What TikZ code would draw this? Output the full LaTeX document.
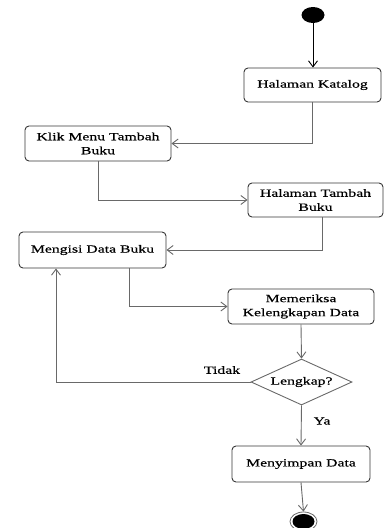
\documentclass[tikz,border=0pt]{standalone}
\usepackage{fontspec}
\setmainfont{Liberation Serif}[FakeStretch=1.43,FakeBold=0.5]
\usetikzlibrary{arrows.meta,shapes.geometric}
\definecolor{linegrey}{RGB}{105,105,105}
\definecolor{boxline}{RGB}{55,55,55}
\begin{document}
\begin{tikzpicture}[x=1pt,y=-1pt,
  font=\fontsize{11}{14}\selectfont,
  action/.style={draw=boxline, line width=0.9pt, rounded corners=4pt, align=center,
    inner sep=0pt, fill=white},
  decision/.style={diamond, draw=linegrey, line width=0.9pt, aspect=2.2, inner sep=0pt},
  flow/.style={draw=linegrey, line width=0.9pt,
    -{Straight Barb[length=6pt,width=9pt]}},
  lbl/.style={inner sep=0pt}]
\useasboundingbox (0,0) rectangle (387,528);

% start and end markers
\node (start) [ellipse, fill=black, minimum width=23pt, minimum height=16pt, inner sep=0pt] at (313,15) {};
\node (finish) [ellipse, draw=linegrey, line width=0.8pt, fill=white, minimum width=27pt, minimum height=19pt, inner sep=0pt] at (303.5,521.5) {};
\node [ellipse, fill=black, minimum width=22pt, minimum height=15pt, inner sep=0pt] at (303.5,521.5) {};

% activities
\node (katalog) [action, minimum width=137pt, minimum height=34pt] at (312.5,85) {Halaman Katalog};
\node (klik) [action, minimum width=146pt, minimum height=35pt] at (98,143.5) {Klik Menu Tambah\\Buku};
\node (tambah) [action, minimum width=135pt, minimum height=34pt] at (315.5,200) {Halaman Tambah\\Buku};
\node (mengisi) [action, minimum width=147pt, minimum height=36pt] at (92.5,250) {Mengisi Data Buku};
\node (periksa) [action, minimum width=146pt, minimum height=35pt] at (301,306.5) {Memeriksa\\Kelengkapan Data};
\node (cek) [decision, minimum width=101pt, minimum height=46pt] at (301.5,382) {Lengkap?};
\node (simpan) [action, minimum width=138pt, minimum height=36pt] at (301,464) {Menyimpan Data};

% guard labels
\node (tidak) [lbl] at (222,370) {Tidak};
\node (ya) [lbl] at (322,421) {Ya};

% control flow
\draw [flow, draw=black] (start) -- (katalog.north -| start);
\draw [flow] (katalog.south) |- (klik.east);
\draw [flow] (klik.south) |- (tambah.west);
\draw [flow] ([xshift=6.5pt]tambah.south) |- (mengisi.east);
\draw [flow] ([xshift=36.5pt]mengisi.south) |- (periksa.west);
\draw [flow] (periksa.south) -- (cek.north);
\draw [flow] (cek.west) -| ([xshift=-36.5pt]mengisi.south);
\draw [flow] (cek.south) -- (simpan.north);
\draw [flow] (simpan.south) -- (finish.north);
\end{tikzpicture}
\end{document}
